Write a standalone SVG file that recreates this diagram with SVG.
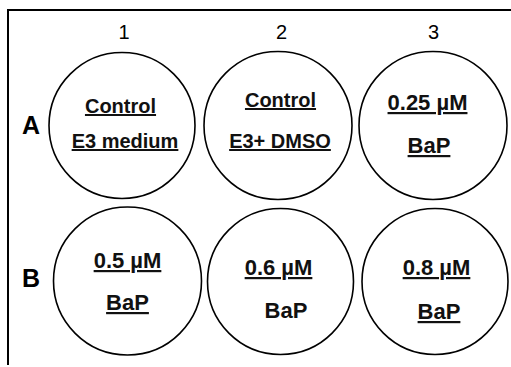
<svg xmlns="http://www.w3.org/2000/svg" width="511" height="367" viewBox="0 0 511 367">
<style>
.well{fill:#fff;stroke:#000;stroke-width:1.6}
.col{font-family:"Liberation Sans",Arial,sans-serif;font-size:20px;fill:#000;text-anchor:middle}
.row{font-family:"Liberation Sans",Arial,sans-serif;font-size:25px;font-weight:bold;fill:#000;text-anchor:middle}
.t{font-family:"Liberation Sans",Arial,sans-serif;font-weight:bold;fill:#111;text-anchor:middle}
.s20{font-size:20px}
.s22{font-size:22px}
.u{text-decoration:underline}
.frame{fill:none;stroke:#000;stroke-width:2}
</style>
<rect width="511" height="367" fill="#fff"/>
<path class="frame" d="M8,365 V10 H511"/>
<g id="labels">
<text class="col" x="124" y="39">1</text>
<text class="col" x="281.5" y="39">2</text>
<text class="col" x="433.5" y="39">3</text>
<text class="row" x="31" y="134">A</text>
<text class="row" x="31" y="287">B</text>
</g>
<g id="A1">
<circle class="well" cx="122" cy="125.5" r="73"/>
<text class="t s20 u" x="120.5" y="113">Control</text>
<text class="t s20 u" x="125" y="148">E3 medium</text>
</g>
<g id="A2">
<circle class="well" cx="278" cy="125.5" r="74"/>
<text class="t s20 u" x="280.5" y="107">Control</text>
<text class="t s20 u" x="280" y="148">E3+ DMSO</text>
</g>
<g id="A3">
<circle class="well" cx="433" cy="125.5" r="74"/>
<text class="t s22 u" x="427.5" y="110">0.25 µM</text>
<text class="t s22 u" x="429" y="153">BaP</text>
</g>
<g id="B1">
<circle class="well" cx="127.5" cy="281" r="74"/>
<text class="t s22 u" x="127.5" y="268">0.5 µM</text>
<text class="t s22 u" x="127.5" y="310">BaP</text>
</g>
<g id="B2">
<circle class="well" cx="280.5" cy="281.5" r="73"/>
<text class="t s22 u" x="278.5" y="275">0.6 µM</text>
<text class="t s22" x="286" y="318">BaP</text>
</g>
<g id="B3">
<circle class="well" cx="435" cy="281.5" r="73"/>
<text class="t s22 u" x="436.5" y="275">0.8 µM</text>
<text class="t s22 u" x="439" y="319">BaP</text>
</g>
<g id="connectors"/>
</svg>
